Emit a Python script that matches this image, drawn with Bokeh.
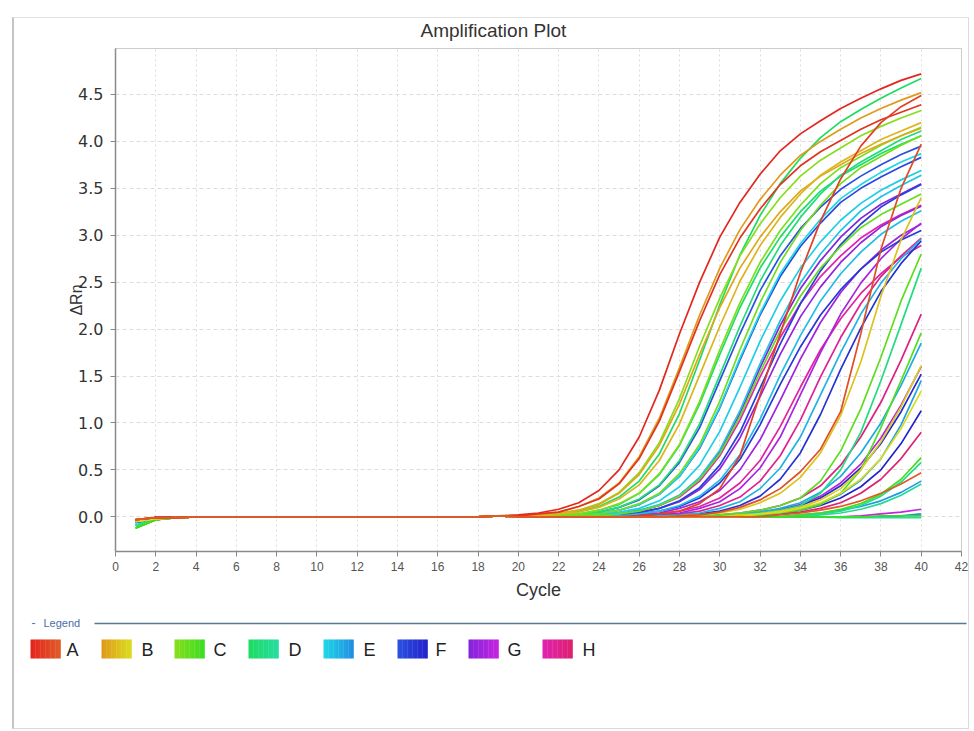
from bokeh.plotting import figure
from bokeh.models import ColumnDataSource, FixedTicker, Range1d, NumeralTickFormatter
from bokeh.layouts import column
from bokeh.embed import file_html
from bokeh.resources import INLINE
from bokeh.core.properties import value

# ---------------- data ----------------
title_text = "Amplification Plot"
cycles = list(range(1, 41))
x_ticks = list(range(0, 43, 2))
y_ticks = [0.0, 0.5, 1.0, 1.5, 2.0, 2.5, 3.0, 3.5, 4.0, 4.5]
rows = ["A", "B", "C", "D", "E", "F", "G", "H"]

# baseline (cycles 1..19)
cycle1 = {"A": -0.03, "B": -0.05, "C": -0.12, "D": -0.09, "E": -0.06, "F": -0.05, "G": -0.04, "H": -0.04}
cycle2 = {"A": -0.01, "B": -0.02, "C": -0.03, "D": -0.03, "E": -0.02, "F": -0.02, "G": -0.01, "H": -0.01}
baseline_3_19 = [-0.01, 0.00, 0.00, 0.00, 0.00, 0.00, 0.00, 0.00, 0.00, 0.00, 0.00, 0.00, 0.00, 0.00, 0.00, 0.00, 0.01]

# delta Rn for cycles 20..40, one list per well
row_A = [
    [0.02,0.04,0.08,0.15,0.28,0.50,0.85,1.35,1.95,2.50,2.98,3.35,3.65,3.90,4.08,4.22,4.35,4.46,4.56,4.65,4.72],
    [0.01,0.03,0.05,0.11,0.19,0.35,0.62,1.02,1.55,2.09,2.58,2.97,3.28,3.54,3.74,3.89,4.01,4.13,4.23,4.31,4.39],
    [0.00,0.00,0.00,0.00,0.00,0.00,0.01,0.03,0.06,0.14,0.30,0.65,1.30,1.95,2.60,3.15,3.60,3.95,4.20,4.37,4.49],
    [0.00,0.00,0.00,0.00,0.00,0.00,0.00,0.00,0.01,0.02,0.05,0.10,0.18,0.30,0.48,0.72,1.12,1.95,2.85,3.50,3.97],
    [0.00,0.00,0.00,0.00,0.00,0.00,0.00,0.00,0.00,0.00,0.00,0.00,0.00,0.02,0.04,0.07,0.11,0.17,0.25,0.35,0.47],
]
row_B = [
    [0.01,0.03,0.05,0.11,0.20,0.36,0.64,1.05,1.59,2.15,2.65,3.06,3.38,3.64,3.85,4.00,4.13,4.25,4.35,4.44,4.52],
    [0.01,0.02,0.03,0.07,0.13,0.25,0.45,0.76,1.20,1.73,2.23,2.65,2.98,3.25,3.47,3.63,3.75,3.87,3.97,4.06,4.14],
    [0.00,0.01,0.03,0.05,0.10,0.19,0.34,0.60,0.99,1.51,2.03,2.51,2.89,3.19,3.44,3.64,3.78,3.90,4.02,4.11,4.20],
    [0.00,0.00,0.00,0.00,0.00,0.00,0.00,0.00,0.01,0.02,0.04,0.08,0.15,0.25,0.42,0.68,1.08,1.65,2.35,2.95,3.40],
    [0.00,0.00,0.00,0.00,0.00,0.00,0.00,0.00,0.00,0.00,0.00,0.02,0.03,0.06,0.10,0.18,0.30,0.50,0.80,1.17,1.61],
    [0.00,0.00,0.00,0.00,0.00,0.00,0.00,0.00,0.00,0.00,0.00,0.00,0.03,0.05,0.09,0.15,0.25,0.40,0.62,0.94,1.34],
]
row_C = [
    [0.01,0.02,0.04,0.07,0.14,0.26,0.47,0.79,1.26,1.82,2.33,2.78,3.12,3.40,3.63,3.80,3.93,4.06,4.16,4.25,4.33],
    [0.00,0.01,0.02,0.03,0.07,0.14,0.25,0.46,0.77,1.23,1.78,2.28,2.71,3.05,3.32,3.55,3.72,3.84,3.96,4.06,4.15],
    [0.00,0.00,0.01,0.02,0.03,0.07,0.14,0.25,0.46,0.77,1.23,1.78,2.28,2.71,3.05,3.32,3.55,3.72,3.84,3.96,4.06],
    [0.00,0.00,0.00,0.01,0.01,0.03,0.06,0.12,0.22,0.40,0.67,1.07,1.54,1.98,2.35,2.65,2.88,3.08,3.22,3.33,3.44],
    [0.00,0.00,0.00,0.00,0.00,0.00,0.00,0.00,0.00,0.01,0.02,0.04,0.07,0.12,0.20,0.38,0.70,1.15,1.70,2.30,2.80],
    [0.00,0.00,0.00,0.00,0.00,0.00,0.00,0.00,0.00,0.00,0.01,0.01,0.02,0.04,0.07,0.13,0.25,0.50,0.95,1.45,1.96],
    [0.00,0.00,0.00,0.00,0.00,0.00,0.00,0.00,0.00,0.00,0.00,0.00,0.00,0.00,0.02,0.04,0.08,0.14,0.24,0.40,0.63],
    [0.00,0.00,0.00,0.00,0.00,0.00,0.00,0.00,0.00,0.00,0.00,0.00,0.00,0.00,0.00,0.00,0.00,0.00,0.01,0.01,0.01],
]
row_D = [
    [0.00,0.01,0.03,0.06,0.11,0.21,0.38,0.67,1.10,1.67,2.26,2.79,3.21,3.55,3.82,4.04,4.21,4.34,4.46,4.57,4.67],
    [0.00,0.01,0.02,0.03,0.07,0.13,0.25,0.45,0.76,1.20,1.73,2.23,2.65,2.98,3.25,3.47,3.63,3.75,3.87,3.97,4.06],
    [0.00,0.00,0.01,0.03,0.05,0.10,0.19,0.34,0.60,0.99,1.51,2.03,2.51,2.89,3.19,3.44,3.64,3.78,3.90,4.02,4.11],
    [0.00,0.00,0.00,0.00,0.00,0.00,0.00,0.00,0.00,0.00,0.01,0.02,0.04,0.07,0.12,0.25,0.50,0.90,1.45,2.05,2.65],
    [0.00,0.00,0.00,0.00,0.00,0.00,0.00,0.00,0.00,0.00,0.00,0.00,0.00,0.00,0.01,0.03,0.06,0.12,0.22,0.37,0.58],
    [0.00,0.00,0.00,0.00,0.00,0.00,0.00,0.00,0.00,0.00,0.00,0.00,0.00,0.00,0.00,0.02,0.04,0.08,0.14,0.23,0.35],
    [0.00,0.00,0.00,0.00,0.00,0.00,0.00,0.00,0.00,0.00,0.00,0.00,0.00,0.00,0.00,0.00,-0.01,-0.01,-0.01,-0.01,-0.01],
]
row_E = [
    [0.00,0.00,0.01,0.02,0.03,0.07,0.13,0.24,0.43,0.74,1.17,1.69,2.17,2.59,2.91,3.17,3.39,3.54,3.67,3.78,3.87],
    [0.00,0.00,0.00,0.01,0.02,0.05,0.09,0.17,0.32,0.55,0.91,1.38,1.87,2.30,2.65,2.93,3.16,3.34,3.48,3.59,3.69],
    [0.00,0.00,0.00,0.01,0.02,0.03,0.07,0.13,0.23,0.42,0.71,1.13,1.63,2.09,2.49,2.80,3.05,3.26,3.41,3.53,3.64],
    [0.00,0.00,0.00,0.00,0.01,0.01,0.03,0.06,0.12,0.22,0.39,0.66,1.04,1.51,1.93,2.30,2.59,2.82,3.01,3.15,3.26],
    [0.00,0.00,0.00,0.00,0.00,0.00,0.00,0.01,0.02,0.04,0.09,0.16,0.30,0.52,0.85,1.30,1.75,2.16,2.49,2.75,2.96],
    [0.00,0.00,0.00,0.00,0.00,0.00,0.00,0.00,0.00,0.00,0.01,0.03,0.05,0.09,0.15,0.26,0.43,0.68,1.00,1.40,1.85],
    [0.00,0.00,0.00,0.00,0.00,0.00,0.00,0.00,0.00,0.00,0.00,0.00,0.02,0.04,0.08,0.14,0.24,0.39,0.62,0.98,1.45],
    [0.00,0.00,0.00,0.00,0.00,0.00,0.00,0.00,0.00,0.00,0.00,0.00,0.00,0.00,0.02,0.04,0.07,0.11,0.17,0.26,0.38],
    [0.00,0.00,0.00,0.00,0.00,0.00,0.00,0.00,0.00,0.00,0.00,0.00,0.00,0.00,0.00,0.00,0.00,0.00,0.00,0.01,0.03],
]
row_F = [
    [0.00,0.00,0.01,0.02,0.05,0.10,0.18,0.33,0.58,0.95,1.45,1.95,2.41,2.78,3.07,3.30,3.49,3.63,3.75,3.86,3.95],
    [0.00,0.00,0.01,0.02,0.03,0.07,0.13,0.24,0.43,0.73,1.16,1.67,2.15,2.56,2.88,3.13,3.35,3.50,3.62,3.73,3.83],
    [0.00,0.00,0.00,0.00,0.01,0.02,0.05,0.09,0.17,0.31,0.55,0.90,1.37,1.84,2.27,2.62,2.90,3.12,3.30,3.43,3.54],
    [0.00,0.00,0.00,0.00,0.01,0.01,0.03,0.06,0.11,0.20,0.36,0.61,0.98,1.41,1.81,2.15,2.42,2.64,2.82,2.95,3.05],
    [0.00,0.00,0.00,0.00,0.00,0.00,0.00,0.01,0.02,0.03,0.06,0.12,0.22,0.40,0.68,1.09,1.57,2.01,2.40,2.70,2.94],
    [0.00,0.00,0.00,0.00,0.00,0.00,0.00,0.00,0.00,0.00,0.00,0.02,0.04,0.07,0.12,0.20,0.33,0.52,0.78,1.12,1.52],
    [0.00,0.00,0.00,0.00,0.00,0.00,0.00,0.00,0.00,0.00,0.00,0.00,0.02,0.04,0.07,0.12,0.20,0.32,0.50,0.78,1.13],
]
row_G = [
    [0.00,0.00,0.00,0.01,0.02,0.03,0.07,0.12,0.23,0.41,0.69,1.10,1.59,2.04,2.43,2.73,2.98,3.18,3.33,3.44,3.55],
    [0.00,0.00,0.00,0.00,0.01,0.02,0.04,0.09,0.16,0.29,0.51,0.84,1.28,1.73,2.13,2.45,2.71,2.92,3.09,3.21,3.31],
    [0.00,0.00,0.00,0.00,0.00,0.01,0.02,0.04,0.09,0.16,0.28,0.50,0.82,1.24,1.68,2.07,2.39,2.64,2.84,3.00,3.12],
    [0.00,0.00,0.00,0.00,0.00,0.00,0.01,0.02,0.04,0.09,0.16,0.30,0.52,0.85,1.30,1.75,2.16,2.49,2.75,2.96,3.13],
    [0.00,0.00,0.00,0.00,0.00,0.00,0.00,0.00,0.00,0.00,0.00,0.03,0.05,0.08,0.13,0.22,0.36,0.56,0.84,1.19,1.60],
    [0.00,0.00,0.00,0.00,0.00,0.00,0.00,0.00,0.00,0.00,0.00,0.00,0.00,0.00,0.00,0.00,0.00,0.01,0.03,0.05,0.08],
]
row_H = [
    [0.00,0.00,0.00,0.01,0.01,0.03,0.06,0.12,0.21,0.38,0.65,1.03,1.49,1.91,2.27,2.56,2.78,2.97,3.11,3.22,3.32],
    [0.00,0.00,0.00,0.00,0.00,0.01,0.01,0.03,0.06,0.11,0.20,0.36,0.60,0.96,1.38,1.78,2.11,2.38,2.59,2.77,2.89],
    [0.00,0.00,0.00,0.00,0.00,0.00,0.01,0.01,0.03,0.06,0.12,0.21,0.38,0.65,1.03,1.49,1.91,2.27,2.56,2.78,2.97],
    [0.00,0.00,0.00,0.00,0.00,0.00,0.00,0.00,0.00,0.00,0.02,0.04,0.07,0.12,0.20,0.33,0.55,0.85,1.22,1.67,2.16],
    [0.00,0.00,0.00,0.00,0.00,0.00,0.00,0.00,0.00,0.00,0.00,0.00,0.00,0.03,0.05,0.09,0.15,0.25,0.40,0.62,0.90],
]
wells = {"A": row_A, "B": row_B, "C": row_C, "D": row_D,
         "E": row_E, "F": row_F, "G": row_G, "H": row_H}

# ---------------- styles ----------------
row_colors = {
    "A": ("#e3261f", "#e05a28"),
    "B": ("#e09a1a", "#d9dc1e"),
    "C": ("#86de1c", "#3edc22"),
    "D": ("#1edc62", "#26dca0"),
    "E": ("#1ed6e6", "#2290e2"),
    "F": ("#2a50e0", "#2424cc"),
    "G": ("#8424dc", "#c424e0"),
    "H": ("#e024b0", "#de2070"),
}


def mix(c1, c2, t):
    a = [int(c1[i:i + 2], 16) for i in (1, 3, 5)]
    b = [int(c2[i:i + 2], 16) for i in (1, 3, 5)]
    return "#%02x%02x%02x" % tuple(int(round(a[k] + (b[k] - a[k]) * t)) for k in range(3))


FONT = "Liberation Sans"
W = 954


def strip(height):
    f = figure(width=W, height=height, x_range=Range1d(0, W), y_range=Range1d(height, 0),
               output_backend="svg", toolbar_location=None, title=None,
               min_border_left=0, min_border_right=0, min_border_top=0, min_border_bottom=0)
    f.frame_align = False
    f.axis.visible = False
    f.grid.visible = False
    f.outline_line_color = None
    return f


# ---------------- title strip ----------------
ttl = strip(29)
ttl.text(x=[406], y=[12], text=[title_text], text_font=value(FONT), text_font_size="19px",
         text_color="#333333", text_baseline="middle")

# ---------------- main plot ----------------
p = figure(width=W, height=556, x_range=Range1d(0, 42), y_range=Range1d(-0.37, 4.99),
           output_backend="svg", toolbar_location=None, title=None,
           min_border_left=101, min_border_right=7, min_border_top=1, min_border_bottom=52)
p.frame_align = False
p.outline_line_color = "#cccccc"

xs_all, ys_all, cols_all = [], [], []
for r in reversed(rows):
    lst = wells[r]
    n = len(lst)
    for i, vals in enumerate(lst):
        ys = [cycle1[r], cycle2[r]] + baseline_3_19 + vals
        xs_all.append(cycles[:len(ys)])
        ys_all.append(ys)
        cols_all.append(mix(row_colors[r][0], row_colors[r][1], i / max(n - 1, 1)))

src = ColumnDataSource(dict(xs=xs_all, ys=ys_all, color=cols_all))
p.multi_line(xs="xs", ys="ys", line_color="color", line_width=1.7, source=src)

p.xaxis.ticker = FixedTicker(ticks=x_ticks)
p.yaxis.ticker = FixedTicker(ticks=y_ticks)
p.yaxis.formatter = NumeralTickFormatter(format="0.0")
p.xgrid.ticker = FixedTicker(ticks=x_ticks)
p.ygrid.ticker = FixedTicker(ticks=y_ticks)
p.xgrid.grid_line_color = "#dcdcdc"
p.xgrid.grid_line_dash = "2 3"
p.ygrid.grid_line_color = "#dcdcdc"
p.ygrid.grid_line_dash = "4 3"

for ax in (p.xaxis[0], p.yaxis[0]):
    ax.axis_line_color = "#8a8a8a"
    ax.axis_line_width = 1.5
    ax.major_tick_line_color = "#8a8a8a"
    ax.major_tick_out = 5
    ax.major_tick_in = 0
    ax.minor_tick_line_color = None
    ax.axis_label_text_font = FONT
    ax.axis_label_text_font_style = "normal"
    ax.axis_label_text_color = "#333333"

p.xaxis.axis_label = "Cycle"
p.xaxis.axis_label_text_font_size = "18px"
p.xaxis.major_label_text_font = FONT
p.xaxis.major_label_text_font_size = "12px"
p.xaxis.major_label_text_color = "#555555"
p.xaxis.axis_label_standoff = 6

p.yaxis.axis_label = "ΔRn"
p.yaxis.axis_label_text_font_size = "16px"
p.yaxis.major_label_text_font = "DejaVu Sans"
p.yaxis.major_label_text_font_size = "16px"
p.yaxis.major_label_text_color = "#333333"
p.yaxis.major_label_standoff = 7
p.yaxis.axis_label_standoff = -10

# ---------------- legend strip ----------------
leg = strip(125)
leg.text(x=[17], y=[19], text=["-"], text_font=value(FONT), text_font_size="12px",
         text_color="#4a6fa5", text_baseline="middle")
leg.text(x=[29], y=[19], text=["Legend"], text_font=value(FONT), text_font_size="11px",
         text_color="#4a6fa5", text_baseline="middle")
leg.segment(x0=[80], y0=[20], x1=[952], y1=[20], line_color="#5a7890", line_width=1.5)

swatch_left = [16, 87, 160, 234, 309, 383, 454, 528]
label_left = [52, 127, 199, 274, 349, 421, 493, 568]
n_strips = 12
sw_w = 30.0
ql, qr, qc = [], [], []
for k, r in enumerate(rows):
    for s in range(n_strips):
        ql.append(swatch_left[k] + s * sw_w / n_strips)
        qr.append(swatch_left[k] + (s + 1) * sw_w / n_strips + 0.3)
        qc.append(mix(row_colors[r][0], row_colors[r][1], s / (n_strips - 1)))
leg.quad(left=ql, right=qr, top=36, bottom=55, fill_color=qc, line_color=None)
leg.text(x=label_left, y=[46] * len(rows), text=rows, text_font=value(FONT),
         text_font_size="18px", text_color="#222222", text_baseline="middle")

layout = column(ttl, p, leg, spacing=0, margin=(17, 0, 0, 12),
                styles={"border-left": "2px solid #c4c4c4",
                        "border-top": "1px solid #e2e2e2",
                        "border-right": "1px solid #dadada",
                        "border-bottom": "1px solid #dadada"})
open("out.html", "w").write(file_html(layout, INLINE))
